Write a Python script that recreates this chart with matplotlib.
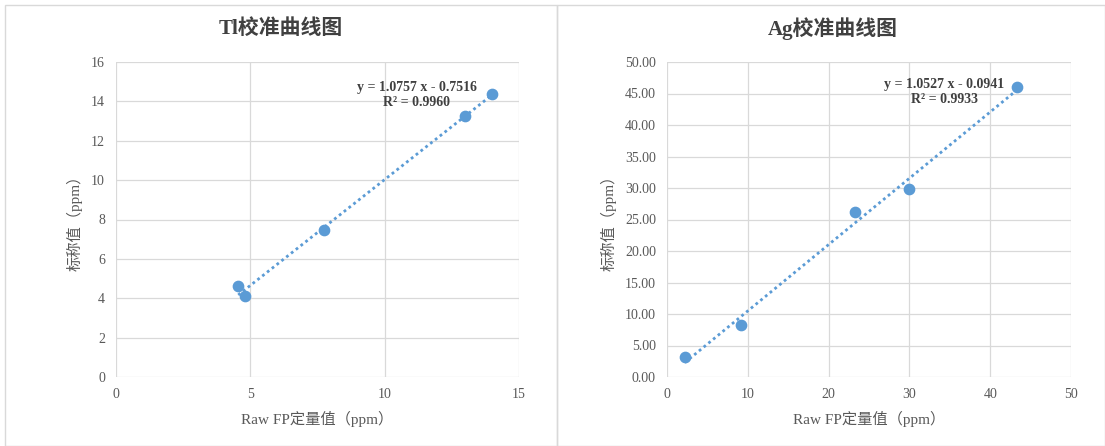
import matplotlib.pyplot as plt
import numpy as np
from matplotlib.patches import Rectangle
from matplotlib.ticker import FormatStrFormatter

plt.rcParams['font.family'] = ['Liberation Serif', 'Noto Sans CJK SC', 'DejaVu Sans']

# Tl calibration data
tl_raw = [4.55, 4.8, 7.75, 13.0, 14.0]
tl_nominal = [4.6, 4.1, 7.45, 13.25, 14.4]

# Ag calibration data
ag_raw = [2.2, 9.2, 23.3, 30.0, 43.3]
ag_nominal = [3.1, 8.3, 26.2, 29.9, 46.0]

blue = '#5B9BD5'
grid_c = '#D9D9D9'
text_c = '#595959'

fig = plt.figure(figsize=(11.05, 4.46), dpi=100)

# panel borders like the Excel chart areas
for x0, w in [(5, 552), (557, 548)]:
    fig.patches.append(Rectangle((x0 / 1105, 0), w / 1105, 441 / 446, transform=fig.transFigure,
                                 fill=False, edgecolor=grid_c, linewidth=1))


def draw(ax, x, y, xmax, ymax, xstep, ystep, title, title_x, eq, r2, eqpos, yfmt=None):
    x = np.array(x)
    y = np.array(y)
    slope, icpt = np.polyfit(x, y, 1)
    xs = np.array([x.min(), x.max()])
    ax.plot(xs, slope * xs + icpt, linestyle=(0, (1, 1.2)), color=blue, linewidth=2, zorder=2)
    ax.scatter(x, y, s=55, color=blue, zorder=3)
    ax.set_xlim(0, xmax)
    ax.set_ylim(0, ymax)
    ax.set_xticks(np.arange(0, xmax + 0.01, xstep))
    ax.set_yticks(np.arange(0, ymax + 0.01, ystep))
    if yfmt:
        ax.yaxis.set_major_formatter(FormatStrFormatter(yfmt))
    ax.grid(True, color=grid_c, linewidth=0.9)
    ax.set_axisbelow(True)
    for s in ax.spines.values():
        s.set_visible(False)
    ax.tick_params(length=0, labelsize=10, colors=text_c, pad=8)
    fig.text(title_x, 1 - 29 / 446, title, ha='center', va='center', fontsize=15,
             fontweight='bold', color='#404040')
    ax.set_xlabel('Raw FP定量值（ppm）', fontsize=11, color=text_c, labelpad=7)
    ax.set_ylabel('标称值（ppm）', fontsize=11, color=text_c, labelpad=6)
    ax.text(eqpos[0], eqpos[1], eq + '\n' + r2, ha='center', va='center', fontsize=10,
            fontweight='bold', color='#404040', linespacing=1.25)


ax1 = fig.add_axes([116 / 1105, 1 - 377 / 446, 403 / 1105, 315 / 446])
draw(ax1, tl_raw, tl_nominal, 15, 16, 5, 2, 'Tl校准曲线图', 281 / 1105,
     'y = 1.0757 x - 0.7516', 'R² = 0.9960', (11.2, 14.32))

ax2 = fig.add_axes([667 / 1105, 1 - 377 / 446, 404 / 1105, 315 / 446])
draw(ax2, ag_raw, ag_nominal, 50, 50, 10, 5, 'Ag校准曲线图', 833 / 1105,
     'y = 1.0527 x - 0.0941', 'R² = 0.9933', (34.3, 45.2), yfmt='%.2f')

fig.savefig('out.png', dpi=100)
